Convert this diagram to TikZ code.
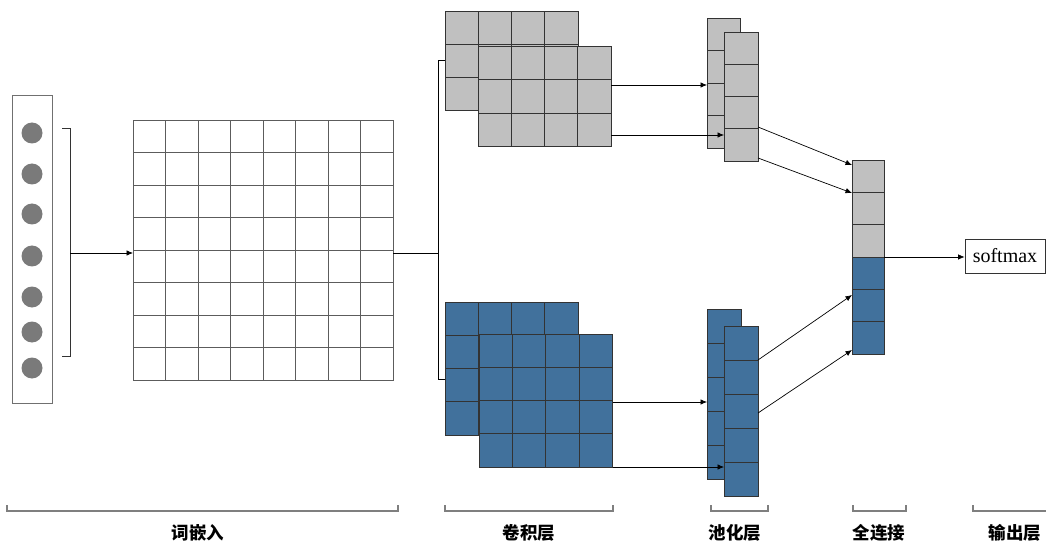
\documentclass[tikz,border=0pt]{standalone}
\usepackage{fontspec}
\setmainfont{Liberation Serif}
\newfontfamily\cjkfont{Noto Sans CJK SC}
\usetikzlibrary{arrows.meta,calc}

\definecolor{cellgray}{HTML}{C0C0C0}
\definecolor{cellblue}{HTML}{41719C}
\definecolor{edgedark}{HTML}{333333}
\definecolor{dotgray}{HTML}{7A7A7A}
\definecolor{bracegray}{HTML}{7F7F7F}

\begin{document}
\begin{tikzpicture}[x=1pt,y=-1pt,
  cell/.style={rectangle, draw=edgedark, line width=0.9pt, inner sep=0pt, outer sep=0pt},
  emcell/.style={rectangle, draw=edgedark!80, line width=0.8pt, fill=white, inner sep=0pt,
    outer sep=0pt, minimum size=32.5pt},
  conn/.style={draw=black, line width=0.7pt},
  arr/.style={conn, -{Latex[length=6.5pt,width=5.5pt]}},
  brace/.style={draw=bracegray, line width=1.2pt},
  layername/.style={font=\cjkfont\bfseries\fontsize{17.5}{18}\selectfont, inner sep=0pt},
]
\useasboundingbox (0,0) rectangle (1046,545);

% ---------- word embedding column ----------
\node[rectangle, draw=edgedark!70, line width=0.9pt, fill=white, inner sep=0pt,
  minimum width=40pt, minimum height=308pt] (emb) at (32,249) {};
\foreach \yy [count=\k] in {133,174,214,256,297,332,368}
  \node[circle, fill=dotgray, minimum size=21pt, inner sep=0pt] (w\k) at (32,\yy) {};
\draw[conn, draw=edgedark] (62,128) -- (70,128) -- (70,356) -- (62,356);
\coordinate (brk) at (70,253);

% ---------- embedding matrix 8x8 ----------
\foreach \i in {0,...,7}
  \foreach \j in {0,...,7}
    \node[emcell] (em-\i-\j) at ({133+(\i+0.5)*32.5},{120+(\j+0.5)*32.5}) {};
\draw[arr] (brk) -- (brk -| em-0-4.west);

% ---------- convolution feature maps ----------
\foreach \i in {0,...,3}
  \foreach \j in {0,...,2}
    \node[cell, fill=cellgray, minimum width=33.25pt, minimum height=33.3pt]
      (gb-\i-\j) at ({445+(\i+0.5)*33.25},{11+(\j+0.5)*33.3}) {};
\foreach \i in {0,...,3}
  \foreach \j in {0,...,2}
    \node[cell, fill=cellgray, minimum width=33.25pt, minimum height=33.6pt]
      (gf-\i-\j) at ({478+(\i+0.5)*33.25},{46+(\j+0.5)*33.6}) {};
\foreach \i in {0,...,3}
  \foreach \j in {0,...,3}
    \node[cell, fill=cellblue, minimum width=33.25pt, minimum height=33.25pt]
      (bb-\i-\j) at ({445+(\i+0.5)*33.25},{302+(\j+0.5)*33.25}) {};
\foreach \i in {0,...,3}
  \foreach \j in {0,...,3}
    \node[cell, fill=cellblue, minimum width=33.4pt, minimum height=33.25pt]
      (bf-\i-\j) at ({479+(\i+0.5)*33.4},{334+(\j+0.5)*33.25}) {};

% split from the matrix to both feature maps
\coordinate (split) at (438,253);
\coordinate (splitTop) at (438,60);
\coordinate (splitBot) at (438,379);
\draw[conn] (em-7-4.east |- split) -- (split);
\draw[conn] (splitTop -| gb-0-1.west) -- (splitTop) -- (splitBot) -- (splitBot -| bb-0-2.west);

% ---------- pooling columns ----------
\foreach \j in {0,...,3}
  \node[cell, fill=cellgray, minimum width=33pt, minimum height=32.5pt]
    (pgb-\j) at (723.5,{18+(\j+0.5)*32.5}) {};
\foreach \j in {0,...,3}
  \node[cell, fill=cellgray, minimum width=34pt, minimum height=32.25pt]
    (pgf-\j) at (741,{32+(\j+0.5)*32.25}) {};
\foreach \j in {0,...,4}
  \node[cell, fill=cellblue, minimum width=34pt, minimum height=34pt]
    (pbb-\j) at (724,{309+(\j+0.5)*34}) {};
\foreach \j in {0,...,4}
  \node[cell, fill=cellblue, minimum width=34pt, minimum height=34pt]
    (pbf-\j) at (741,{326+(\j+0.5)*34}) {};

% convolution -> pooling
\coordinate (gs1) at (611,85);
\coordinate (gs2) at (611,135);
\coordinate (bs1) at (612.6,402);
\coordinate (bs2) at (612.6,467);
\draw[arr] (gs1) -- (gs1 -| pgb-2.west);
\draw[arr] (gs2) -- (gs2 -| pgf-3.west);
\draw[arr] (bs1) -- (bs1 -| pbb-2.west);
\draw[arr] (bs2) -- (bs2 -| pbf-4.west);

% ---------- fully connected column ----------
\foreach \j/\c in {0/cellgray,1/cellgray,2/cellgray,3/cellblue,4/cellblue,5/cellblue}
  \node[cell, fill=\c, minimum width=32pt, minimum height=32.33pt]
    (fc-\j) at (868,{160+(\j+0.5)*32.33}) {};

% pooling -> fully connected
\coordinate (ps1) at (758,127);
\coordinate (ps2) at (758,158);
\coordinate (ps3) at (758,360);
\coordinate (ps4) at (758,413);
\coordinate (ft1) at (852,165);
\coordinate (ft2) at (852,193);
\coordinate (ft3) at (852,295);
\coordinate (ft4) at (852,350);
\draw[arr] (ps1) -- (ft1);
\draw[arr] (ps2) -- (ft2);
\draw[arr] (ps3) -- (ft3);
\draw[arr] (ps4) -- (ft4);

% ---------- output ----------
\node[rectangle, draw=edgedark, line width=0.8pt, fill=white, inner sep=0pt,
  minimum width=80pt, minimum height=34pt, font=\fontsize{20}{21}\selectfont]
  (sm) at (1005,256) {softmax};
\draw[arr] (fc-2.south east) -- (fc-2.south east -| sm.west);

% ---------- layer brackets and names ----------
\draw[brace] (7,505) -- (7,511) -- (398,511) -- (398,505);
\draw[brace] (445,505) -- (445,511) -- (613,511) -- (613,505);
\draw[brace] (711,505) -- (711,511) -- (768,511) -- (768,505);
\draw[brace] (853,505) -- (853,511) -- (906,511) -- (906,505);
\draw[brace] (973,505) -- (973,511) -- (1046,511);
\node[layername] (n1) at (198,533) {词嵌入};
\node[layername] (n2) at (529,533) {卷积层};
\node[layername] (n3) at (735,533) {池化层};
\node[layername] (n4) at (879,533) {全连接};
\node[layername] (n5) at (1015,533) {输出层};
\end{tikzpicture}
\end{document}
